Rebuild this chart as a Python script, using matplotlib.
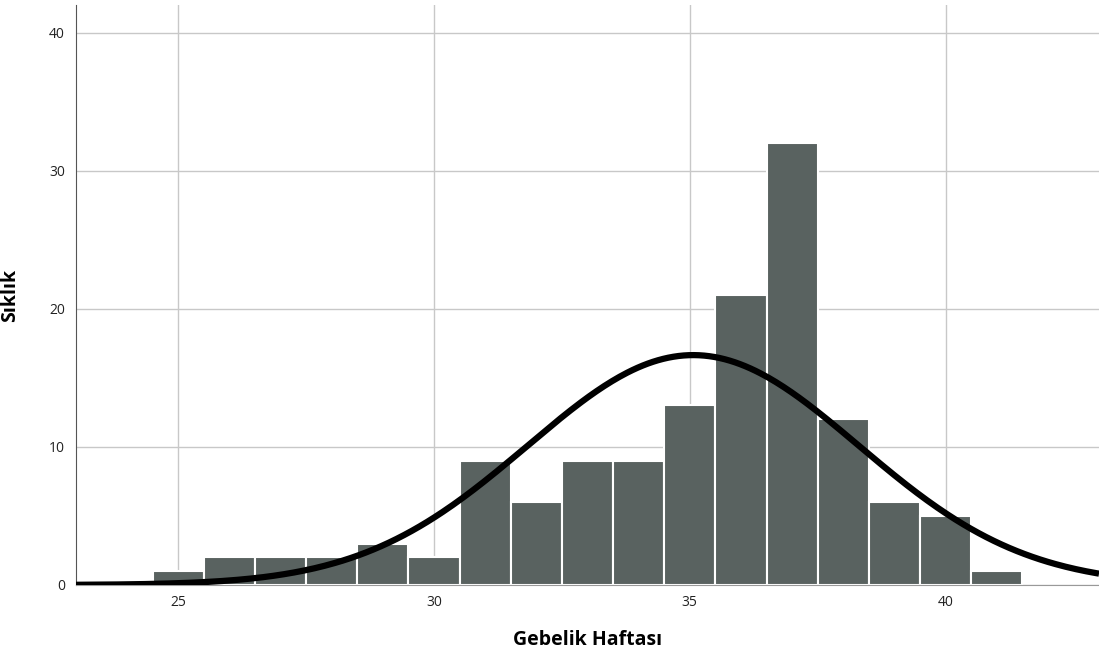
import numpy as np
import matplotlib
matplotlib.use('Agg')
import matplotlib.pyplot as plt

# histogram of pregnancy week (bins of width 1, centred on whole weeks)
weeks = [25, 26, 27, 28, 29, 30, 31, 32, 33, 34, 35, 36, 37, 38, 39, 40, 41]
counts = [1, 2, 2, 2, 3, 2, 9, 6, 9, 9, 13, 21, 32, 12, 6, 5, 1]
x_ticks = [25, 30, 35, 40]
y_ticks = [0, 10, 20, 30, 40]

plt.rcParams['font.family'] = ['Open Sans', 'DejaVu Sans']

fig = plt.figure(figsize=(10.99, 6.57), dpi=100, facecolor='white')
ax = fig.add_axes([76 / 1099, 72 / 657, 1 - 76 / 1099, 580 / 657])

# normal curve fitted to the binned data
w = np.array(weeks, dtype=float)
c = np.array(counts, dtype=float)
n = c.sum()
mean = (w * c).sum() / n
std = np.sqrt((c * (w - mean) ** 2).sum() / (n - 1))

ax.bar(weeks, counts, width=1.0, color='#596260', edgecolor='white', linewidth=1.5, zorder=2)

xs = np.linspace(23, 43, 400)
ys = n * 1.0 / (std * np.sqrt(2 * np.pi)) * np.exp(-0.5 * ((xs - mean) / std) ** 2)
ax.plot(xs, ys, color='black', linewidth=4.5, zorder=3, solid_capstyle='butt')

ax.set_xlim(23, 43)
ax.set_ylim(0, 42)
ax.set_xticks(x_ticks)
ax.set_yticks(y_ticks)
ax.grid(True, color='#c8c8c8', linewidth=1, zorder=0)
ax.set_axisbelow(True)
ax.tick_params(length=0, labelsize=10, colors='#222222', pad=8)
ax.tick_params(axis='x', pad=7)

for s in ['top', 'right']:
    ax.spines[s].set_visible(False)
ax.spines['left'].set_color('#555555')
ax.spines['bottom'].set_color('#999999')

ax.set_xlabel('Gebelik Haftası', fontsize=14, fontweight='bold')
ax.set_ylabel('Sıklık', fontsize=14, fontweight='bold')
ax.xaxis.set_label_coords(0.5, -0.077)
ax.yaxis.set_label_coords(-0.055, 0.5)

fig.savefig('out.png', dpi=100, facecolor='white')
